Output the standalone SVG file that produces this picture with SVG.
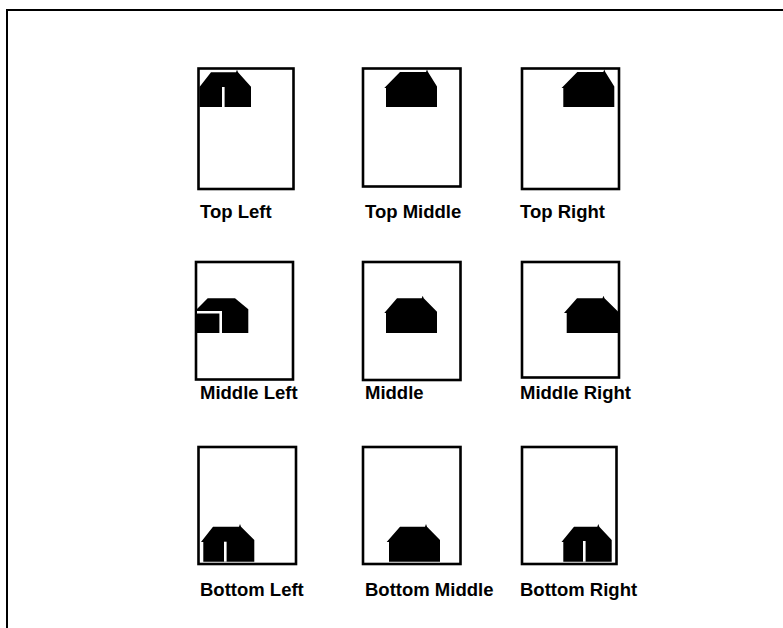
<svg xmlns="http://www.w3.org/2000/svg" width="783" height="628" viewBox="0 0 783 628">
<style>
.page{fill:#fff;stroke:#000;stroke-width:2.6}
.house{fill:#000}
.gap{fill:none;stroke:#fff;stroke-width:2.6}
text{font-family:"Liberation Sans",Arial,sans-serif;font-size:18.5px;font-weight:bold;fill:#000}
</style>
<defs>
<path id="h" d="M-1.700 16L14 0L40 0L41 -2.500L42 0L51 14.500L51 35L0 35L0 16Z"/>
</defs>
<rect width="783" height="628" fill="#fff"/>
<path id="frame" d="M7 628V10H783" fill="none" stroke="#000" stroke-width="2"/>
<g id="top-left"><rect class="page" x="198.500" y="68.500" width="95" height="120.500"/><path class="house" d="M199.500 87L211 72.300L236 72.300L237 69.700L238 72.300L251 86.700L251 107L199.500 107Z"/><path class="gap" d="M223.300 107V87"/><text x="200" y="217.700">Top Left</text></g>
<g id="top-middle"><rect class="page" x="363" y="68.500" width="97.500" height="118"/><use class="house" href="#h" x="386" y="72"/><text x="365" y="217.700">Top Middle</text></g>
<g id="top-right"><rect class="page" x="522" y="68.500" width="97" height="120.500"/><use class="house" href="#h" x="563.300" y="72"/><text x="520" y="217.700">Top Right</text></g>
<g id="middle-left"><rect class="page" x="196" y="262" width="97" height="117.500"/><path class="house" d="M197 309L207.700 298.300L235 298.300L248.300 309.300L248.300 333L197 333Z"/><path class="gap" d="M197 312.300H220.700V333"/><text x="200" y="398.700">Middle Left</text></g>
<g id="middle"><rect class="page" x="363" y="262" width="97.500" height="118"/><path class="house" d="M384.300 313L397 298.300L421.700 298.300L422.700 295.800L423.700 298.300L437 311.700L437 333L386 333L386 313Z"/><text x="365" y="398.700">Middle</text></g>
<g id="middle-right"><rect class="page" x="522" y="262" width="97" height="115.500"/><path class="house" d="M564 313L577 298.300L602.500 298.300L603.500 295.800L604.500 298.300L619 312.500L619 333L566.700 333L566.700 313Z"/><text x="520" y="398.700">Middle Right</text></g>
<g id="bottom-left"><rect class="page" x="198.500" y="447" width="97.500" height="117"/><path class="house" d="M201 542L213 526.700L239 526.700L240 524L241 526.700L254.300 540L254.300 561.700L203.300 561.700L203.300 542Z"/><path class="gap" d="M225.300 561.700V541.700"/><text x="200" y="595.700">Bottom Left</text></g>
<g id="bottom-middle"><rect class="page" x="363" y="447" width="97.500" height="117"/><path class="house" d="M386.700 542L400 526.700L425 526.700L426 524L427 526.700L440 540L440 561.700L389 561.700L389 542Z"/><text x="365" y="595.700">Bottom Middle</text></g>
<g id="bottom-right"><rect class="page" x="522" y="447" width="94.500" height="117"/><path class="house" d="M561.500 542L574 526.700L597.300 526.700L598.300 524L599.300 526.700L611.700 540L611.700 561.700L563.300 561.700L563.300 542Z"/><path class="gap" d="M584.300 561.700V541"/><text x="520" y="595.700">Bottom Right</text></g>
</svg>
